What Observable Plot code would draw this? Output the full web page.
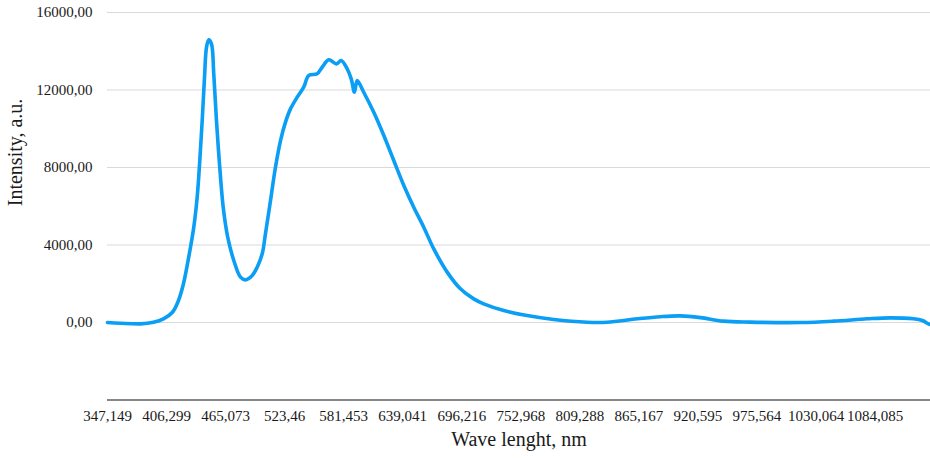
<!DOCTYPE html>
<html><head><meta charset="utf-8">
<script src="https://cdn.jsdelivr.net/npm/d3@7"></script>
<script src="https://cdn.jsdelivr.net/npm/@observablehq/plot@0.6"></script>
<style>
body{margin:0;background:#fff}
#chart{width:930px;height:458px}
</style>
</head><body><div id="chart"></div>
<script>
// Tick labels on the x axis (wavelength, nm)
const tickWavelengths = [347.149, 406.299, 465.073, 523.46, 581.453, 639.041, 696.216, 752.968, 809.288, 865.167, 920.595, 975.564, 1030.064, 1084.085];
// Spectrum
const wavelength = [347.1, 360.2, 380.2, 393.2, 403.2, 412.2, 418.2, 423.2, 427.2, 433.4, 436.8, 439.4, 441.8, 444.1, 446.1, 448.3, 451.0, 453.3, 456.0, 459.0, 462.7, 467.2, 473.2, 479.8, 484.8, 491.4, 496.3, 501.3, 504.5, 509.5, 514.4, 519.4, 524.3, 529.2, 535.8, 542.2, 547.2, 555.4, 560.3, 566.8, 574.4, 579.0, 584.9, 588.8, 592.0, 594.6, 601.0, 610.8, 620.6, 630.3, 640.1, 649.7, 659.4, 669.1, 682.1, 694.9, 707.7, 717.3, 736.6, 759.0, 784.4, 816.2, 835.1, 863.6, 885.4, 904.2, 922.9, 944.3, 969.5, 1015.7, 1046.0, 1077.1, 1098.1, 1119.2, 1127.4, 1132.9, 1134.8];
const intensity = [0, -35, -70, 15, 190, 530, 1135, 2010, 3045, 4920, 6470, 8360, 10425, 12660, 14210, 14590, 14380, 12835, 10425, 8190, 5950, 4400, 3200, 2340, 2200, 2425, 2855, 3545, 4580, 6300, 8015, 9390, 10340, 11025, 11630, 12145, 12750, 12835, 13175, 13560, 13350, 13520, 13090, 12575, 11885, 12490, 11885, 10850, 9650, 8360, 7070, 5950, 4920, 3800, 2600, 1740, 1220, 965, 620, 360, 155, 15, 15, 190, 300, 340, 250, 70, 20, 0, 70, 190, 240, 190, 100, -70, -110];
const yTicks = [0, 4000, 8000, 12000, 16000];
const yDomain = [-4000, 16000];

const fmtX = v => String(v).replace(".", ",");
const fmtY = v => v.toFixed(2).replace(".", ",");

// category-style axis: labels evenly spaced, wavelength mapped piecewise between them
const pos = d3.scaleLinear().domain(tickWavelengths).range(tickWavelengths.map((_, i) => i));
const data = wavelength.map((w, i) => ({w, v: intensity[i]}));
const tickIdx = tickWavelengths.map((_, i) => i);

const chart = Plot.plot({
  width: 930, height: 458,
  marginTop: 12, marginBottom: 58.5, marginLeft: 107, marginRight: 0,
  style: {fontFamily: "'Liberation Serif', 'Times New Roman', serif", fontSize: "15px", color: "#1a1a1a", background: "#fff", overflow: "visible"},
  x: {type: "linear", domain: [0, pos(wavelength[wavelength.length - 1])]},
  y: {domain: yDomain},
  marks: [
    Plot.gridY(yTicks, {stroke: "#d9d9d9", strokeOpacity: 1, strokeWidth: 1}),
    Plot.ruleY([yDomain[0]], {stroke: "#5f5f5f", strokeWidth: 1.3}),
    Plot.axisY(yTicks, {tickSize: 0, tickPadding: 15, tickFormat: fmtY, label: null, fontSize: 15}),
    Plot.axisX(tickIdx, {tickSize: 0, tickPadding: 10.5, tickFormat: i => fmtX(tickWavelengths[i]), label: null, fontSize: 15}),
    Plot.line(data, {x: d => pos(d.w), y: "v", stroke: "#0a9ef5", strokeWidth: 3.6, curve: "catmull-rom", strokeLinejoin: "round", strokeLinecap: "round"}),
    Plot.text(["Wave lenght, nm"], {frameAnchor: "bottom", dy: 46, fontSize: 20, fill: "#1a1a1a"}),
    Plot.text(["Intensity, a.u."], {frameAnchor: "left", dx: -92, rotate: -90, fontSize: 20, fill: "#1a1a1a"})
  ]
});
document.getElementById("chart").append(chart);
</script>
</body></html>
